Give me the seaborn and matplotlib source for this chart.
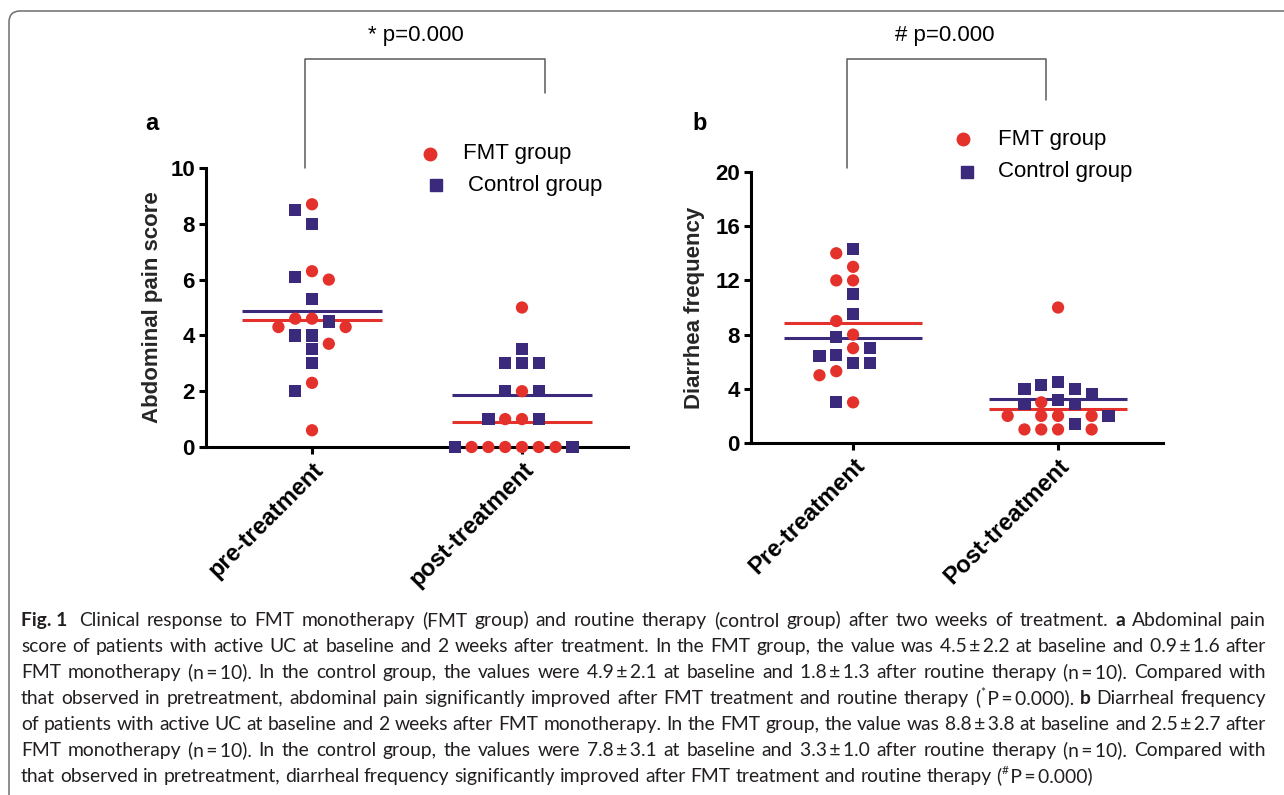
import numpy as np
import pandas as pd
import matplotlib
matplotlib.use("Agg")
import matplotlib.pyplot as plt
import seaborn as sns
from matplotlib.lines import Line2D
from matplotlib.patches import FancyBboxPatch
from matplotlib.font_manager import FontProperties
from matplotlib.transforms import IdentityTransform, ScaledTranslation

# ---------------- data ----------------
groups = ["FMT group", "Control group"]
times_a = ["pre-treatment", "post-treatment"]
times_b = ["Pre-treatment", "Post-treatment"]

pain_fmt_pre = [8.7, 6.3, 6.0, 4.6, 4.6, 4.3, 4.3, 3.7, 2.3, 0.6]
pain_ctrl_pre = [8.5, 8.0, 6.1, 5.3, 4.5, 4.0, 4.0, 3.5, 3.0, 2.0]
pain_fmt_post = [5.0, 2.0, 1.0, 1.0, 0.0, 0.0, 0.0, 0.0, 0.0, 0.0]
pain_ctrl_post = [3.5, 3.0, 3.0, 3.0, 2.0, 2.0, 1.0, 1.0, 0.0, 0.0]

diarr_fmt_pre = [14.0, 13.0, 12.0, 12.0, 9.0, 8.0, 7.0, 5.3, 5.0, 3.0]
diarr_ctrl_pre = [14.3, 11.0, 9.5, 7.8, 7.0, 6.4, 6.5, 5.9, 5.9, 3.0]
diarr_fmt_post = [10.0, 3.0, 2.0, 2.0, 2.0, 2.0, 1.0, 1.0, 1.0, 1.0]
diarr_ctrl_post = [4.5, 4.3, 4.0, 4.0, 3.6, 3.2, 2.9, 2.9, 2.0, 1.4]

pain_ticks = [0, 2, 4, 6, 8, 10]
diarr_ticks = [0, 4, 8, 12, 16, 20]

p_text_a = "* p=0.000"
p_text_b = "# p=0.000"

caption_lines = [
    "**Fig.\u00a01**\u00a0 Clinical response to FMT monotherapy (FMT group) and routine therapy (control group) after two weeks of treatment. **a** Abdominal pain",
    "score of patients with active UC at baseline and 2 weeks after treatment. In the FMT group, the value was 4.5\u2009\u00b1\u20092.2 at baseline and 0.9\u2009\u00b1\u20091.6 after",
    "FMT monotherapy (n\u2009=\u200910). In the control group, the values were 4.9\u2009\u00b1\u20092.1 at baseline and 1.8\u2009\u00b1\u20091.3 after routine therapy (n\u2009=\u200910). Compared with",
    "that observed in pretreatment, abdominal pain significantly improved after FMT treatment and routine therapy (^*^\u2009P\u2009=\u20090.000). **b** Diarrheal frequency",
    "of patients with active UC at baseline and 2 weeks after FMT monotherapy. In the FMT group, the value was 8.8\u2009\u00b1\u20093.8 at baseline and 2.5\u2009\u00b1\u20092.7 after",
    "FMT monotherapy (n\u2009=\u200910). In the control group, the values were 7.8\u2009\u00b1\u20093.1 at baseline and 3.3\u2009\u00b1\u20091.0 after routine therapy (n\u2009=\u200910). Compared with",
    "that observed in pretreatment, diarrheal frequency significantly improved after FMT treatment and routine therapy (^#^\u2009P\u2009=\u20090.000)",
]

# ---------------- style ----------------
sns.set_theme(style="ticks")
plt.rcParams["font.family"] = ["Liberation Sans", "DejaVu Sans"]

RED = "#E4312B"
PURPLE = "#3B2A7C"
palette = {groups[0]: RED, groups[1]: PURPLE}
markers = {groups[0]: "o", groups[1]: "s"}
CAP_COLOR = "#231F20"
LINE_GRAY = "#5a5a5a"

W, H = 1284, 795
fig = plt.figure(figsize=(W / 100, H / 100), dpi=100)
fig.patch.set_facecolor("white")


def px_rect(l, t, r, b):
    return [l / W, 1 - b / H, (r - l) / W, (b - t) / H]


def fxy(x, y):
    return x / W, 1 - y / H


axA = fig.add_axes(px_rect(206, 168, 628, 447))
axB = fig.add_axes(px_rect(751, 172, 1163, 443))


def build_frame(fmt_pre, ctrl_pre, fmt_post, ctrl_post):
    rows = []
    for cat, (f, c) in enumerate([(fmt_pre, ctrl_pre), (fmt_post, ctrl_post)]):
        rows += [(cat, v, groups[0]) for v in f]
        rows += [(cat, v, groups[1]) for v in c]
    return pd.DataFrame(rows, columns=["cat", "value", "group"])


def column_layout(ax, df, slot_px=16.8, tol_px=13.0):
    """Prism-like column scatter: spread colliding points on a grid of slots."""
    x = np.zeros(len(df))
    to_px = ax.transData.transform
    from_px = ax.transData.inverted().transform
    for cat in sorted(df["cat"].unique()):
        sub = df[df["cat"] == cat].sort_values("value", ascending=False, kind="stable")
        cx = to_px((cat, 0))[0]
        placed = []
        for i, row in sub.iterrows():
            yp = to_px((cat, row["value"]))[1]
            for k in [0, -1, 1, -2, 2, -3, 3, -4, 4, -5, 5]:
                if all(s != k or abs(y - yp) >= tol_px for s, y in placed):
                    break
            placed.append((k, yp))
            x[i] = from_px((cx + k * slot_px, yp))[0]
    return x


def panel(ax, data, ticklabels, ylim, yticks, ylabel, xlim, labelpad):
    ax.set_xlim(*xlim)
    ax.set_ylim(*ylim)
    df = build_frame(*data)
    df["x"] = column_layout(ax, df)
    pairs = [(data[0], data[1]), (data[2], data[3])]
    for cat, pair in enumerate(pairs):
        for g, vals in zip(groups, pair):
            ax.hlines(np.mean(vals), cat - 0.335, cat + 0.335, color=palette[g],
                      lw=2.2, zorder=2)
    sns.scatterplot(data=df, x="x", y="value", hue="group", style="group",
                    markers=markers, palette=palette, hue_order=groups,
                    style_order=groups, s=78, linewidth=0, legend=False,
                    ax=ax, clip_on=False, zorder=3)
    ax.set_xlim(*xlim)
    ax.set_ylim(*ylim)
    ax.set_xticks([0, 1])
    ax.set_xticklabels(ticklabels, rotation=45, ha="right", rotation_mode="anchor",
                       fontsize=17, fontweight="bold")
    shift = ScaledTranslation(6 / 100, -3 / 100, fig.dpi_scale_trans)
    for lab in ax.get_xticklabels():
        lab.set_transform(lab.get_transform() + shift)
    ax.set_yticks(yticks)
    ax.set_yticklabels([str(v) for v in yticks], fontsize=16, fontweight="bold")
    ax.set_xlabel("")
    ax.set_ylabel(ylabel, fontsize=16, fontweight="bold", labelpad=labelpad)
    sns.despine(ax=ax)
    for sp in ["left", "bottom"]:
        ax.spines[sp].set_linewidth(2.2)
        ax.spines[sp].set_color("black")
    ax.tick_params(axis="both", width=2.2, length=5, color="black", pad=3,
                   labelcolor="black")
    ax.set_facecolor("none")


panel(axA, (pain_fmt_pre, pain_ctrl_pre, pain_fmt_post, pain_ctrl_post), times_a,
      (0, 10), pain_ticks, "Abdominal pain score", (-0.505, 1.505), 5)
panel(axB, (diarr_fmt_pre, diarr_ctrl_pre, diarr_fmt_post, diarr_ctrl_post), times_b,
      (0, 20), diarr_ticks, "Diarrhea frequency", (-0.498, 1.512), 7)

# ---------------- panel letters ----------------
for lab, (x, y) in [("a", (152, 123)), ("b", (700, 123))]:
    fig.text(*fxy(x, y), lab, fontsize=17, fontweight="bold", ha="center",
             va="center", color="black")

# ---------------- legends ----------------
for (cx, cy, sx, sy, tx) in [(430, 154, 436, 185, 463), (963, 139, 967, 172, 998)]:
    fig.add_artist(Line2D([fxy(cx, cy)[0]], [fxy(cx, cy)[1]], marker="o",
                          color=RED, markersize=9, linestyle="none",
                          transform=fig.transFigure))
    fig.add_artist(Line2D([fxy(sx, sy)[0]], [fxy(sx, sy)[1]], marker="s",
                          color=PURPLE, markersize=8.5, linestyle="none",
                          transform=fig.transFigure))
    fig.text(*fxy(tx, cy), groups[0], fontsize=16, ha="left", va="center",
             color="black")
    fig.text(*fxy(tx + (5 if tx < 600 else 0), sy), groups[1], fontsize=16,
             ha="left", va="center", color="black")

# ---------------- significance brackets ----------------
for (xl, xr, ytop, yl, yr, tx, txt) in [(305, 545, 59, 168, 93, 416, p_text_a),
                                         (847, 1046, 59, 168, 100, 945, p_text_b)]:
    xs = [xl, xl, xr, xr]
    ys = [yl, ytop, ytop, yr]
    fx = [fxy(a, b)[0] for a, b in zip(xs, ys)]
    fy = [fxy(a, b)[1] for a, b in zip(xs, ys)]
    fig.add_artist(Line2D(fx, fy, color=LINE_GRAY, lw=1.1,
                          transform=fig.transFigure))
    fig.text(*fxy(tx, 36), txt, fontsize=16, ha="center", va="center",
             color="black")

# ---------------- frame ----------------
frame = FancyBboxPatch((9, -60), 1400, (H - 11) + 60,
                       boxstyle="round,pad=0,rounding_size=11",
                       transform=IdentityTransform(), facecolor="none",
                       edgecolor="#6e6e6e", lw=1.1)
fig.add_artist(frame)

# ---------------- caption (justified) ----------------
fig.canvas.draw()
renderer = fig.canvas.get_renderer()
CAP_FAMILY = ["Lato", "DejaVu Sans"]


def parse(line):
    tokens = []
    for word in line.split(" "):
        pieces, buf, bold, sup, i = [], "", False, False, 0
        while i < len(word):
            if word.startswith("**", i):
                if buf:
                    pieces.append((buf, bold, sup))
                    buf = ""
                bold = not bold
                i += 2
            elif word[i] == "^":
                if buf:
                    pieces.append((buf, bold, sup))
                    buf = ""
                sup = not sup
                i += 1
            else:
                buf += word[i]
                i += 1
        if buf:
            pieces.append((buf, bold, sup))
        tokens.append(pieces)
    return tokens


def fprop(bold, sup, size):
    return FontProperties(family=CAP_FAMILY, size=size * (0.62 if sup else 1.0),
                          weight="bold" if bold else "normal")


def adv(s, fp):
    w1 = renderer.get_text_width_height_descent("|" + s + "|", fp, ismath=False)[0]
    w0 = renderer.get_text_width_height_descent("||", fp, ismath=False)[0]
    return w1 - w0


def token_width(tok, size):
    return sum(adv(s, fprop(b, u, size)) for s, b, u in tok)


LEFT, RIGHT = 21, 1266
parsed = [parse(l) for l in caption_lines]
base = 12.0
space_base = adv(" ", fprop(False, False, base))
naturals = [sum(token_width(t, base) for t in toks) + space_base * (len(toks) - 1)
            for toks in parsed[:-1]]
cap_size = base * (RIGHT - LEFT) / max(naturals) * 0.995

baseline0, leading = 626, 26.0
for li, toks in enumerate(parsed):
    widths = [token_width(t, cap_size) for t in toks]
    if li < len(parsed) - 1:
        gap = (RIGHT - LEFT - sum(widths)) / (len(toks) - 1)
    else:
        gap = adv(" ", fprop(False, False, cap_size))
    x = LEFT
    yb = H - (baseline0 + li * leading)
    for tok, w in zip(toks, widths):
        xx = x
        for s, b, u in tok:
            fp = fprop(b, u, cap_size)
            fig.text(xx, yb + (cap_size * 100 / 72 * 0.42 if u else 0), s,
                     fontproperties=fp, transform=IdentityTransform(),
                     ha="left", va="baseline", color=CAP_COLOR)
            xx += adv(s, fp)
        x += w + gap

fig.savefig("out.png", dpi=100, facecolor="white")
